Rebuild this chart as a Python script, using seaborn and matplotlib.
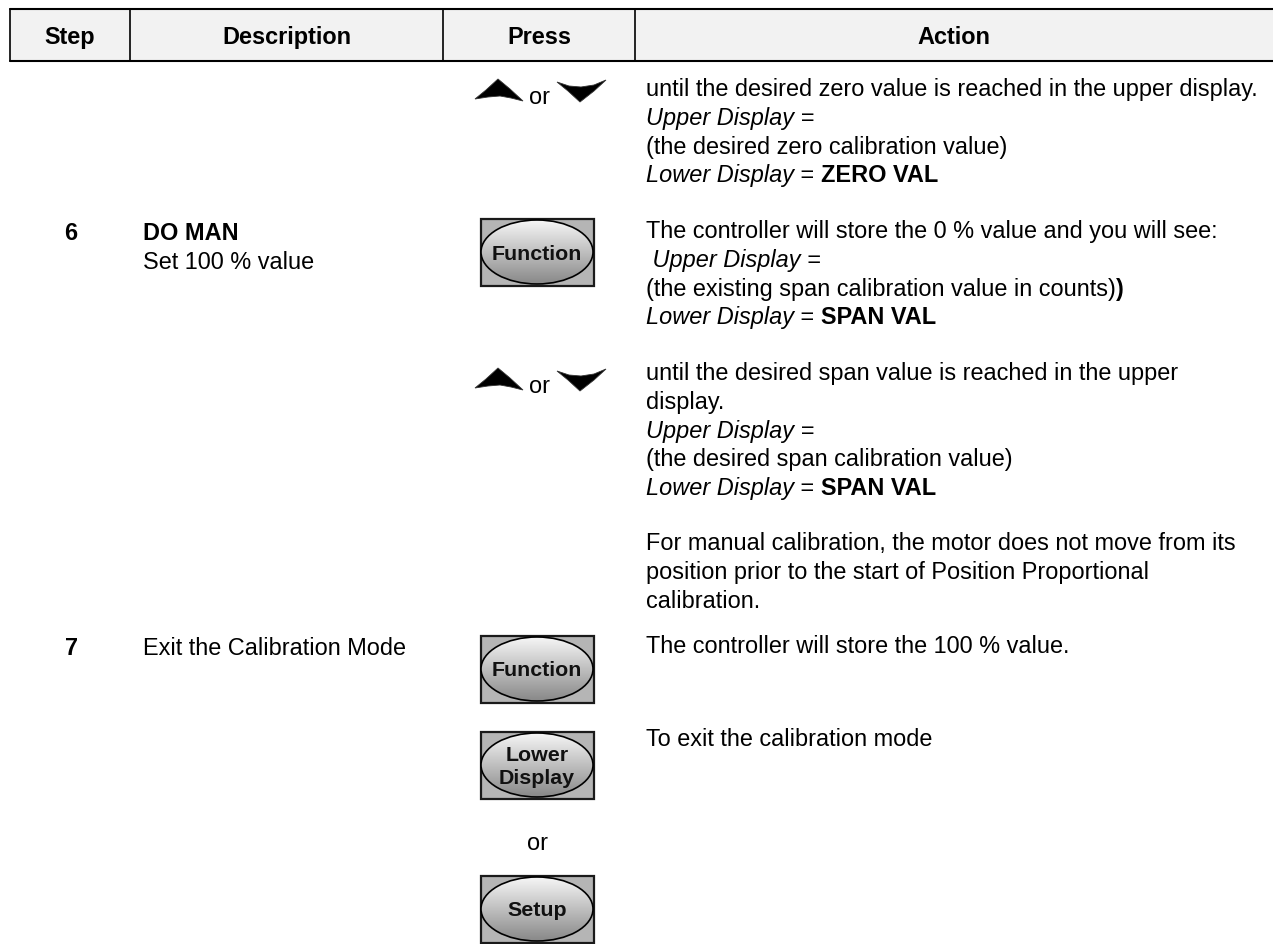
import numpy as np
import matplotlib.pyplot as plt
import seaborn as sns
from matplotlib.patches import Rectangle, Ellipse, Polygon

sns.set_theme(style="white")
plt.rcParams['font.family'] = ['Liberation Sans', 'DejaVu Sans']
plt.rcParams['text.color'] = 'black'

# Table content
headers = ['Step', 'Description', 'Press', 'Action']
step_numbers = ['6', '7']
step_titles = ['DO MAN', 'Exit the Calibration Mode']
step_subtitles = ['Set 100 % value', '']
step_title_bold = [True, False]

# action paragraphs, each line is a list of (text, style) pieces
# n = normal, i = italic, b = bold
action_blocks = [
    [[('until the desired zero value is reached in the upper display.', 'n')],
     [('Upper Display =', 'i')],
     [('(the desired zero calibration value)', 'n')],
     [('Lower Display', 'i'), (' = ', 'n'), ('ZERO VAL', 'b')]],
    [[('The controller will store the 0 % value and you will see:', 'n')],
     [(' Upper Display =', 'i')],
     [('(the existing span calibration value in counts)', 'n'), (')', 'b')],
     [('Lower Display', 'i'), (' = ', 'n'), ('SPAN VAL', 'b')]],
    [[('until the desired span value is reached in the upper', 'n')],
     [('display.', 'n')],
     [('Upper Display =', 'i')],
     [('(the desired span calibration value)', 'n')],
     [('Lower Display', 'i'), (' = ', 'n'), ('SPAN VAL', 'b')]],
    [[('For manual calibration, the motor does not move from its', 'n')],
     [('position prior to the start of Position Proportional', 'n')],
     [('calibration.', 'n')]],
    [[('The controller will store the 100 % value.', 'n')]],
    [[('To exit the calibration mode', 'n')]],
]

press_items = ['arrows', 'Function', 'arrows', 'Function', 'Lower\nDisplay', 'or', 'Setup']

# Layout (pixels)
W, H = 1273, 945
col_edges = [10, 130, 443, 635, W]
header_top, header_bottom = 10, 62
step_x = 71
desc_x = 143
action_x = 646
press_x = 537
line_gap = 28.8
step_rows = [232, 647]
block_rows = [88, 230, 372, 542, 645, 738]
press_rows = [92, 253, 381, 670, 766, 842, 910]
btn_w, btn_h = 113, 67
fs = 16.9
btn_fs = 15.4
base_off = 8

fig = plt.figure(figsize=(W / 100, H / 100), dpi=100)
ax = fig.add_axes([0, 0, 1, 1])
ax.set_xlim(0, W)
ax.set_ylim(H, 0)
ax.set_autoscale_on(False)
ax.axis('off')
renderer = fig.canvas.get_renderer()

style_map = {'n': dict(), 'i': dict(style='italic'), 'b': dict(weight='bold')}


def rich_line(x, y, pieces):
    for txt, st in pieces:
        t = ax.text(x, y + base_off, txt, fontsize=fs, va='baseline', ha='left',
                    color='black', **style_map[st])
        bb = t.get_window_extent(renderer)
        x = ax.transData.inverted().transform((bb.x1, bb.y0))[0]


# header
ax.add_patch(Rectangle((col_edges[0], header_top), W - col_edges[0],
                       header_bottom - header_top, facecolor='#f2f2f2',
                       edgecolor='none'))
ax.plot([col_edges[0], W], [header_top, header_top], color='black', lw=1.5)
ax.plot([col_edges[0], W], [header_bottom, header_bottom], color='black', lw=1.5)
for xe in col_edges[:-1]:
    ax.plot([xe, xe], [header_top, header_bottom], color='black', lw=1.2)
for i, h in enumerate(headers):
    cx = (col_edges[i] + col_edges[i + 1]) / 2
    ax.text(cx, (header_top + header_bottom) / 2 + base_off, h, fontsize=fs,
            weight='bold', ha='center', va='baseline')

# step + description
for num, title, sub, bold, y in zip(step_numbers, step_titles, step_subtitles,
                                     step_title_bold, step_rows):
    ax.text(step_x, y + base_off, num, fontsize=fs, weight='bold', ha='center',
            va='baseline')
    ax.text(desc_x, y + base_off, title, fontsize=fs,
            weight='bold' if bold else 'normal', ha='left', va='baseline')
    if sub:
        ax.text(desc_x, y + base_off + line_gap, sub, fontsize=fs, ha='left',
                va='baseline')

# action text
for block, y0 in zip(action_blocks, block_rows):
    for k, pieces in enumerate(block):
        rich_line(action_x, y0 + k * line_gap, pieces)

# press column
up_shape = np.array([(-24, 9), (-13, 0), (-1, -11), (11, -1), (24, 11),
                     (12, 8), (1, 6), (-11, 7)])
down_shape = np.array([(-25, -9), (-13, -5), (-1, -4), (12, -6), (24, -11),
                       (12, 0), (-2, 11), (-14, 0)])
grad = np.linspace(0.97, 0.52, 200).reshape(-1, 1)


def draw_button(cx, cy, label):
    x0, y0 = cx - btn_w / 2, cy - btn_h / 2
    ax.add_patch(Rectangle((x0, y0), btn_w, btn_h, facecolor='#b5b5b5',
                           edgecolor='#1a1a1a', lw=1.6, zorder=2))
    ell = Ellipse((cx, cy), btn_w - 1, btn_h - 3, facecolor='none',
                  edgecolor='black', lw=1.2, zorder=4)
    ax.add_patch(ell)
    im = ax.imshow(grad, cmap='gray', vmin=0, vmax=1, aspect='auto',
                   extent=(x0, x0 + btn_w, y0 + btn_h, y0), origin='upper',
                   interpolation='bilinear', zorder=3)
    im.set_clip_path(ell)
    ax.text(cx, cy + 1, label, fontsize=btn_fs, weight='bold', ha='center',
            va='center', linespacing=1.25, zorder=5, color='#111111')


for item, y in zip(press_items, press_rows):
    if item == 'arrows':
        ax.add_patch(Polygon(up_shape + [press_x - 38, y - 1], closed=True,
                             facecolor='black', edgecolor='#333333', lw=0.6))
        ax.add_patch(Polygon(down_shape + [press_x + 45, y], closed=True,
                             facecolor='black', edgecolor='#333333', lw=0.6))
        ax.text(press_x + 2, y + 12, 'or', fontsize=fs, ha='center', va='baseline')
    elif item == 'or':
        ax.text(press_x + 1, y + base_off, 'or', fontsize=fs, ha='center',
                va='baseline')
    else:
        draw_button(press_x, y, item)

ax.set_xlim(0, W)
ax.set_ylim(H, 0)
fig.savefig('out.png', dpi=100)
